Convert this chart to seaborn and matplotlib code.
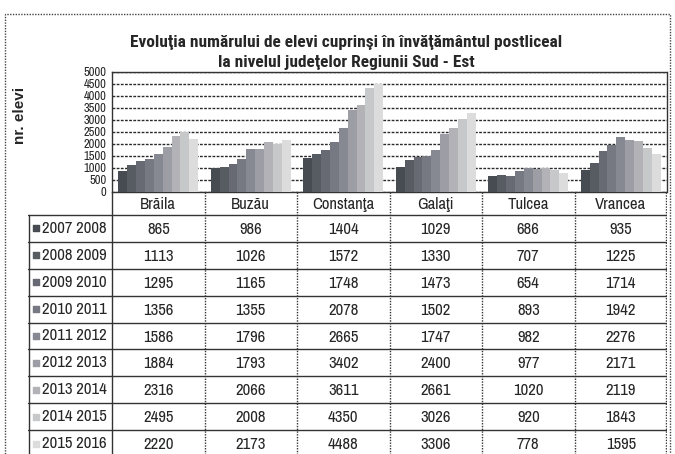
import numpy as np
import pandas as pd
import matplotlib
matplotlib.use("Agg")
import matplotlib.pyplot as plt
from matplotlib.patches import Rectangle
import seaborn as sns

# judete si ani scolari
judete = ["Brăila", "Buzău", "Constanţa", "Galaţi", "Tulcea", "Vrancea"]
ani = ["2007 2008", "2008 2009", "2009 2010", "2010 2011", "2011 2012",
       "2012 2013", "2013 2014", "2014 2015", "2015 2016"]

v2007 = [865, 986, 1404, 1029, 686, 935]
v2008 = [1113, 1026, 1572, 1330, 707, 1225]
v2009 = [1295, 1165, 1748, 1473, 654, 1714]
v2010 = [1356, 1355, 2078, 1502, 893, 1942]
v2011 = [1586, 1796, 2665, 1747, 982, 2276]
v2012 = [1884, 1793, 3402, 2400, 977, 2171]
v2013 = [2316, 2066, 3611, 2661, 1020, 2119]
v2014 = [2495, 2008, 4350, 3026, 920, 1843]
v2015 = [2220, 2173, 4488, 3306, 778, 1595]

serii = [v2007, v2008, v2009, v2010, v2011, v2012, v2013, v2014, v2015]

rows = []
for an, vals in zip(ani, serii):
    for j, v in zip(judete, vals):
        rows.append({"judet": j, "an": an, "elevi": v})
df = pd.DataFrame(rows)

sns.set_style("white")
narrow = ["Archivo Narrow", "Roboto Condensed", "Liberation Sans", "DejaVu Sans"]
narrow_bold = ["Roboto Condensed", "Liberation Sans", "DejaVu Sans"]
plt.rcParams["font.family"] = narrow

W, H = 675, 454
fig = plt.figure(figsize=(W / 100, H / 100), dpi=100)

def fx(px):
    return px / W

def fy(py):
    return 1 - py / H

left, right, top, bottom = 112, 667, 72, 192
ax = fig.add_axes([fx(left), fy(bottom), fx(right) - fx(left), fy(top) - fy(bottom)])

pal = sns.blend_palette(["#474c52", "#868892", "#dcdcdc"], len(ani))

sns.barplot(data=df, x="judet", y="elevi", hue="an", order=judete, hue_order=ani,
            palette=pal, width=0.86, saturation=1, legend=False, ax=ax,
            linewidth=0, zorder=3)

ax.set_ylim(0, 5000)
ax.set_yticks(np.arange(0, 5001, 500))
ax.set_xlim(-0.5, len(judete) - 0.5)
ax.set_xlabel("")
ax.set_ylabel("")
ax.set_xticks([])
ax.tick_params(axis="y", labelsize=9, length=0, pad=4)
ax.yaxis.grid(True, color="#2a2a2a", linestyle=(0, (2, 1)), linewidth=1, zorder=0)
ax.set_axisbelow(True)
for s in ax.spines.values():
    s.set_color("#333333")
    s.set_linestyle((0, (1, 1)))
    s.set_linewidth(1)
ax.spines["left"].set_linestyle("-")

fig.text(fx(20), fy(115), "nr. elevi", rotation=90, ha="center", va="center",
         fontsize=11, fontweight="bold", family=["Liberation Sans", "DejaVu Sans"])

fig.text(fx(346), fy(43), "Evoluţia numărului de elevi cuprinşi în învăţământul postliceal",
         ha="center", va="center", fontsize=12.5, fontweight="bold", family=narrow_bold)
fig.text(fx(346), fy(62), "la nivelul judeţelor Regiunii Sud - Est",
         ha="center", va="center", fontsize=12.5, fontweight="bold", family=narrow_bold)

# tabelul de date sub grafic
tab_left, tab_bottom, head_bottom = 28, 457, 215
tax = fig.add_axes([fx(tab_left), fy(tab_bottom), fx(right) - fx(tab_left),
                    fy(bottom) - fy(tab_bottom)])
tax.set_xlim(tab_left, right)
tax.set_ylim(tab_bottom, bottom)
tax.axis("off")

col_w = (right - left) / len(judete)
row_h = (tab_bottom - head_bottom) / len(ani)
line_kw = dict(color="#333333", linewidth=1)

for k, j in enumerate(judete):
    tax.text(left + (k + 0.5) * col_w, (bottom + head_bottom) / 2 + 1, j,
             ha="center", va="center", fontsize=12)
for k in range(1, len(judete) + 1):
    tax.plot([left + k * col_w - (1 if k == len(judete) else 0)] * 2, [bottom, tab_bottom],
             linestyle=(0, (1, 1)), **line_kw)
tax.plot([left, left], [bottom, tab_bottom], **line_kw)
tax.plot([tab_left + 1, tab_left + 1], [head_bottom, tab_bottom], **line_kw)

for i, (an, vals) in enumerate(zip(ani, serii)):
    y0 = head_bottom + i * row_h
    yc = y0 + row_h / 2
    tax.plot([tab_left, right], [y0, y0], **line_kw)
    tax.scatter([tab_left + 8], [yc], marker="s", s=20, color=pal[i], zorder=3)
    tax.text(tab_left + 14, yc, an, ha="left", va="center", fontsize=12)
    for k, v in enumerate(vals):
        tax.text(left + (k + 0.5) * col_w, yc + 1, str(v), ha="center", va="center",
                 fontsize=12)

# chenarul exterior punctat
fig.add_artist(Rectangle((fx(5), fy(470)), fx(670) - fx(5), fy(14) - fy(470),
                         transform=fig.transFigure, fill=False, edgecolor="#444444",
                         linestyle=(0, (1, 1)), linewidth=1))

fig.savefig("out.png", dpi=100)
